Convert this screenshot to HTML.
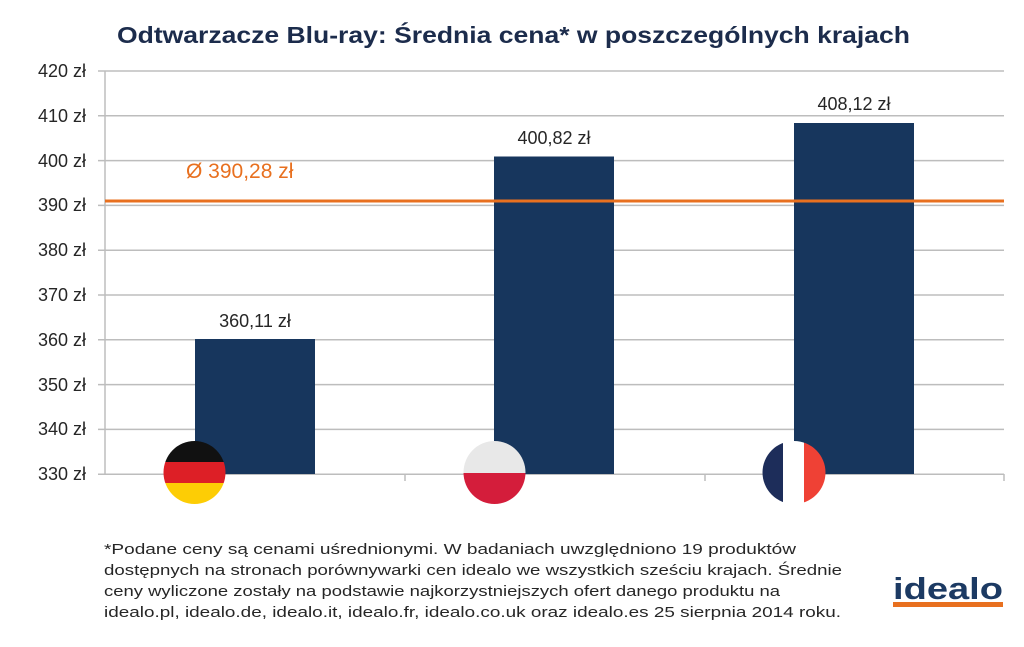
<!DOCTYPE html>
<html><head><meta charset="utf-8"><style>
body{margin:0;width:1024px;height:642px;background:#fff;overflow:hidden;font-family:"Liberation Sans",sans-serif}
</style></head><body>
<svg width="1024" height="642" xmlns="http://www.w3.org/2000/svg" font-family="Liberation Sans, sans-serif">
<text x="117" y="43" font-size="23" font-weight="bold" fill="#1c2c4c" textLength="793" lengthAdjust="spacingAndGlyphs">Odtwarzacze Blu-ray: Średnia cena* w poszczególnych krajach</text>
<g stroke="#bdbdbd" stroke-width="1.5">
<line x1="98" y1="71" x2="1004" y2="71"/><line x1="98" y1="115.8" x2="1004" y2="115.8"/><line x1="98" y1="160.6" x2="1004" y2="160.6"/><line x1="98" y1="205.4" x2="1004" y2="205.4"/><line x1="98" y1="250.2" x2="1004" y2="250.2"/><line x1="98" y1="295" x2="1004" y2="295"/><line x1="98" y1="339.8" x2="1004" y2="339.8"/><line x1="98" y1="384.6" x2="1004" y2="384.6"/><line x1="98" y1="429.4" x2="1004" y2="429.4"/><line x1="98" y1="474.2" x2="1004" y2="474.2"/>
<line x1="105" y1="71" x2="105" y2="474"/>
<line x1="405" y1="474" x2="405" y2="481"/><line x1="705" y1="474" x2="705" y2="481"/><line x1="1004" y1="474" x2="1004" y2="481"/>
</g>
<g font-size="18" fill="#262626" text-anchor="end">
<text x="86" y="77">420 zł</text><text x="86" y="122">410 zł</text><text x="86" y="167">400 zł</text><text x="86" y="211">390 zł</text><text x="86" y="256">380 zł</text><text x="86" y="301">370 zł</text><text x="86" y="346">360 zł</text><text x="86" y="391">350 zł</text><text x="86" y="435">340 zł</text><text x="86" y="480">330 zł</text>
</g>
<g fill="#17365d">
<rect x="195" y="339" width="120" height="135"/>
<rect x="494" y="156.5" width="120" height="317.5"/>
<rect x="794" y="123" width="120" height="351"/>
</g>
<line x1="105" y1="201" x2="1004" y2="201" stroke="#e8701f" stroke-width="3"/>
<text x="186" y="178" font-size="21" fill="#e8701f">Ø 390,28 zł</text>
<g font-size="18" fill="#262626" text-anchor="middle">
<text x="255" y="327">360,11 zł</text><text x="554" y="144">400,82 zł</text><text x="854" y="110">408,12 zł</text>
</g>
<defs>
<clipPath id="c1"><ellipse cx="194.5" cy="472.5" rx="31" ry="31.5"/></clipPath>
<clipPath id="c2"><ellipse cx="494.5" cy="472.5" rx="31" ry="31.5"/></clipPath>
<clipPath id="c3"><ellipse cx="794" cy="472.5" rx="31.5" ry="31.5"/></clipPath>
</defs>
<g clip-path="url(#c1)"><rect x="160" y="440" width="70" height="22" fill="#111"/><rect x="160" y="462" width="70" height="21" fill="#dd1f26"/><rect x="160" y="483" width="70" height="22" fill="#fdcd05"/></g>
<g clip-path="url(#c2)"><rect x="460" y="440" width="70" height="33" fill="#e8e8e8"/><rect x="460" y="473" width="70" height="33" fill="#d41d3b"/></g>
<g clip-path="url(#c3)"><rect x="760" y="440" width="23" height="66" fill="#1d2d5a"/><rect x="783" y="440" width="21" height="66" fill="#fff"/><rect x="804" y="440" width="24" height="66" fill="#ef4135"/></g>
<g font-size="14.5" fill="#262626">
<text x="104" y="554" textLength="692" lengthAdjust="spacingAndGlyphs">*Podane ceny są cenami uśrednionymi. W badaniach uwzględniono 19 produktów</text>
<text x="104" y="575" textLength="738" lengthAdjust="spacingAndGlyphs">dostępnych na stronach porównywarki cen idealo we wszystkich sześciu krajach. Średnie</text>
<text x="104" y="596" textLength="676" lengthAdjust="spacingAndGlyphs">ceny wyliczone zostały na podstawie najkorzystniejszych  ofert danego produktu na</text>
<text x="104" y="617" textLength="737" lengthAdjust="spacingAndGlyphs">idealo.pl, idealo.de, idealo.it, idealo.fr, idealo.co.uk  oraz idealo.es  25 sierpnia  2014 roku.</text>
</g>
<text x="893" y="599" font-size="31" font-weight="bold" fill="#1c3a63" textLength="110" lengthAdjust="spacingAndGlyphs">idealo</text>
<rect x="893" y="602" width="110" height="5" fill="#e8701f"/>
</svg>
</body></html>
